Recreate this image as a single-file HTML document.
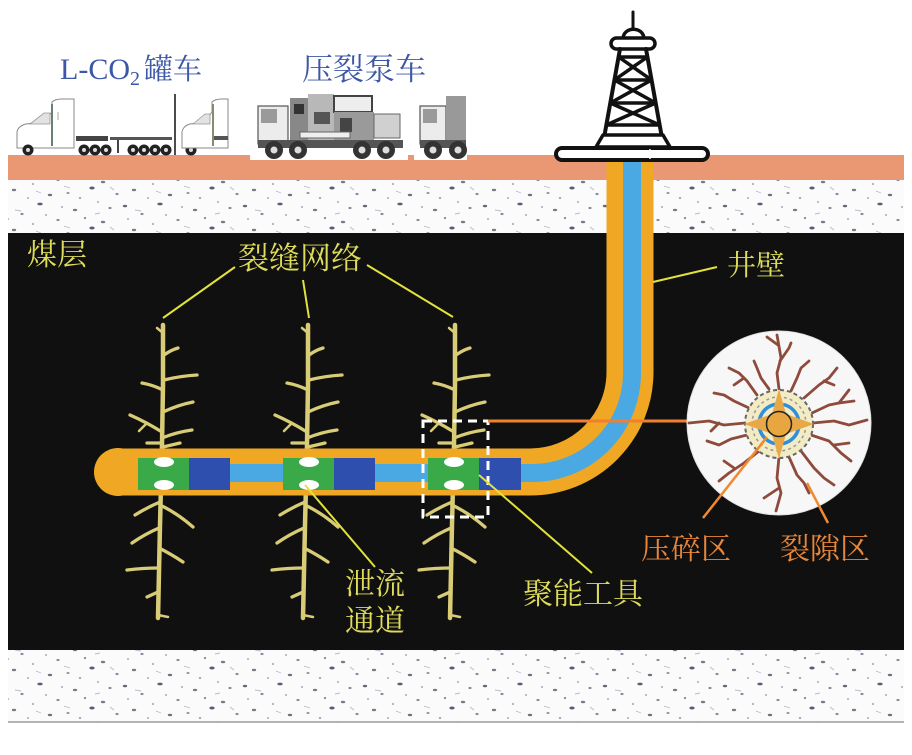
<!DOCTYPE html>
<html>
<head>
<meta charset="utf-8">
<style>
  html,body{margin:0;padding:0;background:#fff;}
  svg{display:block;}
  .cjk{font-family:"Liberation Serif","Noto Serif CJK SC","Noto Sans CJK SC",serif;}
</style>
</head>
<body>
<svg width="912" height="755" viewBox="0 0 912 755" xmlns="http://www.w3.org/2000/svg">
  <defs>
    <pattern id="speck" patternUnits="userSpaceOnUse" width="120" height="40">
      <rect width="120" height="40" fill="#fbfbfc"/>
      <g fill="#3e4358">
        <ellipse cx="5" cy="6" rx="2.2" ry="1.3" opacity="0.8"/>
        <ellipse cx="22" cy="14" rx="1.6" ry="1.1" opacity="0.6"/>
        <ellipse cx="40" cy="4" rx="2.7" ry="1.4" opacity="0.85"/>
        <ellipse cx="58" cy="20" rx="1.6" ry="1.1" opacity="0.6"/>
        <ellipse cx="75" cy="10" rx="2.2" ry="1.2" opacity="0.7"/>
        <ellipse cx="92" cy="28" rx="2.7" ry="1.5" opacity="0.85"/>
        <ellipse cx="110" cy="8" rx="1.6" ry="1.1" opacity="0.6"/>
        <ellipse cx="14" cy="30" rx="2.2" ry="1.2" opacity="0.7"/>
        <ellipse cx="33" cy="24" rx="1.2" ry="0.9" opacity="0.5"/>
        <ellipse cx="50" cy="35" rx="2.2" ry="1.2" opacity="0.75"/>
        <ellipse cx="68" cy="33" rx="1.6" ry="1" opacity="0.55"/>
        <ellipse cx="85" cy="18" rx="1.2" ry="1.1" opacity="0.6"/>
        <ellipse cx="103" cy="22" rx="2.2" ry="1.2" opacity="0.7"/>
        <ellipse cx="117" cy="34" rx="1.6" ry="1.1" opacity="0.6"/>
        <ellipse cx="28" cy="38" rx="1.2" ry="0.8" opacity="0.5"/>
        <ellipse cx="62" cy="7" rx="1.2" ry="0.8" opacity="0.5"/>
        <ellipse cx="98" cy="2" rx="1.2" ry="0.8" opacity="0.5"/>
        <ellipse cx="8" cy="19" rx="1.2" ry="0.8" opacity="0.5"/>
        <ellipse cx="80" cy="38" rx="1.4" ry="0.9" opacity="0.55"/>
        <ellipse cx="46" cy="15" rx="1.2" ry="0.7" opacity="0.5"/>
      </g>
      <g stroke="#9aa0b0" stroke-width="0.9" opacity="0.7">
        <line x1="15" y1="10" x2="21" y2="11"/>
        <line x1="64" y1="26" x2="70" y2="28"/>
        <line x1="95" y1="14" x2="100" y2="13"/>
        <line x1="36" y1="31" x2="41" y2="33"/>
        <line x1="110" y1="27" x2="114" y2="30"/>
      </g>
    </pattern>
    <g id="tree" stroke="#d9cc77" fill="none" stroke-linecap="round">
      <path d="M0,0 L0,60 L-1,120 L-3,200 L-5,293" stroke-width="4.5"/>
      <g stroke-width="3.3">
        <path d="M0,8 L-6,3" stroke-width="2.5"/>
        <path d="M1,30 Q8,25 15,23"/>
        <path d="M0,65 Q-10,60 -21,58"/>
        <path d="M1,55 Q17,51 34,50"/>
        <path d="M0,87 Q15,80 30,77"/>
        <path d="M-1,107 Q-17,97 -33,90"/>
        <path d="M-17,99 L-24,106" stroke-width="2.5"/>
        <path d="M-1,113 Q14,107 29,105"/>
        <path d="M-1,118 L-16,118"/>
        <path d="M0,122 L17,118"/>
        <path d="M-3,177 Q-15,182 -28,190"/>
        <path d="M-3,180 Q14,188 30,202"/>
        <path d="M-4,203 Q-18,209 -31,218"/>
        <path d="M-4,223 Q8,229 20,237"/>
        <path d="M-4,243 Q-20,243 -36,245"/>
        <path d="M-5,267 L-16,272"/>
        <path d="M-5,290 L5,292" stroke-width="2.5"/>
      </g>
    </g>
  </defs>

  <!-- Background layers -->
  <rect x="0" y="0" width="912" height="755" fill="#ffffff"/>
  <rect x="8" y="155" width="896" height="25" fill="#e99873"/>
  <rect x="8" y="180" width="896" height="53" fill="url(#speck)"/>
  <rect x="8" y="233" width="896" height="417" fill="#101010"/>
  <rect x="8" y="650" width="896" height="72" fill="url(#speck)"/>
  <line x1="8" y1="722" x2="904" y2="722" stroke="#888" stroke-width="1.2"/>

  <!-- Truck 1 (tanker) -->
  <g>
    <path d="M17,148 L17,132 Q18,126 26,124 L44,122 L52,112 L52,102 Q55,99 62,99 L74,99 L74,148 Z" fill="#fff" stroke="#888" stroke-width="1"/>
    <path d="M30,124 L44,113 L50,113 L50,124 Z" fill="#e2e2e2" stroke="#999" stroke-width="0.8"/>
    <line x1="52" y1="104" x2="52" y2="146" stroke="#6a8070" stroke-width="2"/>
    <line x1="58" y1="112" x2="58" y2="120" stroke="#aaa" stroke-width="1"/>
    <rect x="76" y="136" width="32" height="5" fill="#444"/>
    <rect x="110" y="137" width="62" height="3" fill="#555"/>
    <line x1="118" y1="140" x2="118" y2="153" stroke="#444" stroke-width="2"/>
    <g fill="#222">
      <circle cx="28" cy="150" r="5.5"/><circle cx="84" cy="150" r="5.5"/><circle cx="95" cy="150" r="5.5"/><circle cx="106" cy="150" r="5.5"/>
      <circle cx="133" cy="150" r="5.5"/><circle cx="144" cy="150" r="5.5"/><circle cx="155" cy="150" r="5.5"/><circle cx="166" cy="150" r="5.5"/>
      <circle cx="191" cy="150" r="5.5"/>
    </g>
    <g fill="#ddd">
      <circle cx="28" cy="150" r="2"/><circle cx="84" cy="150" r="2"/><circle cx="95" cy="150" r="2"/><circle cx="106" cy="150" r="2"/>
      <circle cx="133" cy="150" r="2"/><circle cx="144" cy="150" r="2"/><circle cx="155" cy="150" r="2"/><circle cx="166" cy="150" r="2"/>
      <circle cx="191" cy="150" r="2"/>
    </g>
    <line x1="175" y1="94" x2="175" y2="155" stroke="#111" stroke-width="1.5"/>
    <path d="M182,148 L182,132 Q183,126 190,124 L205,122 L212,112 L212,102 Q215,99 222,99 L228,99 L228,148 Z" fill="#fff" stroke="#888" stroke-width="1"/>
    <path d="M193,124 L205,114 L210,114 L210,124 Z" fill="#e2e2e2" stroke="#999" stroke-width="0.8"/>
    <line x1="213" y1="104" x2="213" y2="146" stroke="#8a8a70" stroke-width="2"/>
    <rect x="214" y="136" width="14" height="4" fill="#555"/>
  </g>

  <!-- Pump truck -->
  <g>
    <rect x="250" y="88" width="158" height="72" fill="#fff"/>
    <rect x="414" y="88" width="53" height="72" fill="#fff"/>
    <rect x="258" y="106" width="30" height="38" fill="#ececec" stroke="#555" stroke-width="1.2"/>
    <rect x="261" y="109" width="16" height="14" fill="#9a9a9a"/>
    <rect x="290" y="98" width="18" height="44" fill="#888"/>
    <rect x="308" y="94" width="26" height="46" fill="#b8b8b8"/>
    <rect x="334" y="96" width="38" height="16" fill="#eee" stroke="#444" stroke-width="2"/>
    <rect x="334" y="112" width="40" height="28" fill="#9a9a9a"/>
    <rect x="374" y="114" width="26" height="24" fill="#d0d0d0" stroke="#666" stroke-width="1"/>
    <rect x="294" y="104" width="10" height="10" fill="#333"/>
    <rect x="314" y="112" width="16" height="12" fill="#555"/>
    <rect x="340" y="118" width="12" height="14" fill="#444"/>
    <rect x="258" y="140" width="145" height="8" fill="#555"/>
    <rect x="300" y="132" width="50" height="6" fill="#eee" stroke="#666" stroke-width="1"/>
    <g fill="#333"><circle cx="274" cy="150" r="9"/><circle cx="298" cy="150" r="9"/><circle cx="362" cy="150" r="9"/><circle cx="386" cy="150" r="9"/></g>
    <g fill="#ddd"><circle cx="274" cy="150" r="3.5"/><circle cx="298" cy="150" r="3.5"/><circle cx="362" cy="150" r="3.5"/><circle cx="386" cy="150" r="3.5"/></g>
    <rect x="420" y="106" width="26" height="38" fill="#ececec" stroke="#555" stroke-width="1.2"/>
    <rect x="423" y="109" width="14" height="14" fill="#9a9a9a"/>
    <rect x="446" y="96" width="20" height="46" fill="#999"/>
    <rect x="420" y="140" width="46" height="8" fill="#555"/>
    <g fill="#333"><circle cx="433" cy="150" r="9"/><circle cx="458" cy="150" r="9"/></g>
    <g fill="#ddd"><circle cx="433" cy="150" r="3.5"/><circle cx="458" cy="150" r="3.5"/></g>
  </g>

  <!-- Top labels -->
  <text x="60" y="79" font-family="Liberation Serif, serif" font-size="30" fill="#3c57a6">L-CO<tspan font-size="20" dy="6">2</tspan><tspan class="cjk" dx="4" dy="-6" font-size="29">罐车</tspan></text>
  <text class="cjk" x="302" y="80" font-size="31" fill="#3c57a6">压裂泵车</text>

  <!-- Fracture trees -->
  <use href="#tree" x="163" y="325"/>
  <use href="#tree" x="308" y="325"/>
  <use href="#tree" x="455" y="325"/>

  <!-- Wellbore -->
  <path d="M118,472 H530 A100,100 0 0 0 630,372 V158" fill="none" stroke="#f0a824" stroke-width="47"/>
  <circle cx="118" cy="472" r="24" fill="#f0a824"/>
  <path d="M140,473 H532 A100,100 0 0 0 632,373 V158" fill="none" stroke="#4aa9e2" stroke-width="18"/>

  <!-- Tools -->
  <g>
    <rect x="138" y="458" width="51" height="32" fill="#3aaa48"/>
    <rect x="189" y="458" width="41" height="32" fill="#2e4fae"/>
    <rect x="283" y="458" width="51" height="32" fill="#3aaa48"/>
    <rect x="334" y="458" width="41" height="32" fill="#2e4fae"/>
    <rect x="428" y="458" width="51" height="32" fill="#3aaa48"/>
    <rect x="479" y="458" width="42" height="32" fill="#2e4fae"/>
    <g fill="#fff">
      <ellipse cx="164" cy="462" rx="10" ry="5"/><ellipse cx="164" cy="485" rx="10" ry="5"/>
      <ellipse cx="309" cy="462" rx="10" ry="5"/><ellipse cx="309" cy="485" rx="10" ry="5"/>
      <ellipse cx="454" cy="462" rx="10" ry="5"/><ellipse cx="454" cy="485" rx="10" ry="5"/>
    </g>
  </g>

  <!-- Dashed box and connector -->
  <rect x="423" y="421" width="65" height="96" fill="none" stroke="#fff" stroke-width="3" stroke-dasharray="9 6"/>
  <line x1="488" y1="421" x2="688" y2="421" stroke="#f08030" stroke-width="3"/>

  <!-- Derrick -->
  <g stroke="#111" fill="none" stroke-linecap="round" stroke-linejoin="round">
    <line x1="633" y1="12" x2="633" y2="28" stroke-width="3"/>
    <path d="M623,39 C623,26 644,26 644,39" fill="#fff" stroke-width="3.5"/>
    <rect x="611" y="38" width="44" height="11" rx="5.5" fill="#fff" stroke-width="3.5"/>
    <line x1="620" y1="49" x2="604" y2="138" stroke-width="4"/>
    <line x1="646" y1="49" x2="662" y2="138" stroke-width="4"/>
    <g stroke-width="3.5">
      <line x1="618.6" y1="57" x2="647.4" y2="57"/>
      <line x1="614.4" y1="80" x2="651.6" y2="80"/>
      <line x1="610.3" y1="103" x2="655.7" y2="103"/>
      <line x1="606.3" y1="125" x2="659.7" y2="125"/>
      <line x1="618.6" y1="57" x2="651.6" y2="80"/>
      <line x1="647.4" y1="57" x2="614.4" y2="80"/>
      <line x1="614.4" y1="80" x2="655.7" y2="103"/>
      <line x1="651.6" y1="80" x2="610.3" y2="103"/>
      <line x1="610.3" y1="103" x2="659.7" y2="125"/>
      <line x1="655.7" y1="103" x2="606.3" y2="125"/>
    </g>
    <path d="M603,135 L663,135 L670,147 L596,147 Z" fill="#fff" stroke-width="3.5"/>
    <rect x="556" y="148" width="152" height="12" rx="6" fill="#fff" stroke-width="4"/>
    <line x1="650" y1="150" x2="650" y2="158" stroke="#fff" stroke-width="2"/>
  </g>

  <!-- Inset circle -->
  <circle cx="779" cy="423" r="92" fill="#f7f7f7" stroke="#e0e0e0" stroke-width="1"/>
  <g transform="translate(779,423)" stroke="#8e4a3b" stroke-width="2.8" fill="none" stroke-linecap="round" stroke-linejoin="round">
    <path d="M0,-34 L-2,-50 L2,-65 L-2,-88"/>
    <path d="M1,-62 L10,-75 L12,-80"/>
    <path d="M-1,-78 L-12,-86"/>
    <path d="M12,-32 L18,-45 L22,-55 L30,-62"/>
    <path d="M25,-25 L40,-38 L50,-45 L58,-55"/>
    <path d="M45,-42 L55,-38"/>
    <path d="M33,-10 L50,-18 L60,-20 L70,-33"/>
    <path d="M60,-20 L75,-22"/>
    <path d="M34,0 L55,-2 L70,2 L88,-3"/>
    <path d="M32,12 L50,18 L62,30 L72,38"/>
    <path d="M55,22 L70,20"/>
    <path d="M22,28 L35,45 L45,55 L55,62"/>
    <path d="M0,34 L-2,55 L2,70 L-3,88"/>
    <path d="M0,65 L-15,75"/>
    <path d="M10,34 L18,52 L25,60 L30,70"/>
    <path d="M-20,28 L-35,40 L-50,50 L-60,58"/>
    <path d="M-45,45 L-55,38"/>
    <path d="M-32,12 L-48,16 L-60,22 L-72,18"/>
    <path d="M-34,0 L-55,2 L-70,-2 L-90,0"/>
    <path d="M-60,0 L-68,8"/>
    <path d="M-30,-15 L-45,-22 L-55,-28 L-65,-30"/>
    <path d="M-22,-28 L-32,-42 L-40,-50 L-50,-55"/>
    <path d="M-35,-45 L-45,-38"/>
    <path d="M-10,-34 L-18,-45 L-22,-55 L-25,-62"/>
  </g>
  <g transform="translate(779,424)">
    <circle r="34" fill="#f2ebc3"/>
    <circle r="34" fill="none" stroke="#666" stroke-width="2" stroke-dasharray="4 3"/>
    <circle r="27" fill="none" stroke="#999" stroke-width="1.5" stroke-dasharray="3 3"/>
    <circle r="20" fill="none" stroke="#2f8fd8" stroke-width="3.5" stroke-dasharray="23.4 8" stroke-dashoffset="-4"/>
    <path d="M0,-35 L7,-10 L35,0 L7,10 L0,35 L-7,10 L-35,0 L-7,-10 Z" fill="#e8a848"/>
    <circle r="12.5" fill="#e8a640" stroke="#222" stroke-width="1.5"/>
  </g>

  <!-- Leader lines -->
  <g stroke="#e2e23c" stroke-width="2" fill="none">
    <line x1="235" y1="267" x2="163" y2="318"/>
    <line x1="303" y1="280" x2="309" y2="318"/>
    <line x1="367" y1="265" x2="453" y2="317"/>
    <line x1="653" y1="282" x2="717" y2="267"/>
    <line x1="305" y1="485" x2="375" y2="567"/>
    <line x1="479" y1="475" x2="592" y2="573"/>
  </g>
  <g stroke="#f08a30" stroke-width="2.5" fill="none">
    <line x1="703" y1="518" x2="767" y2="437"/>
    <line x1="807" y1="483" x2="828" y2="523"/>
  </g>

  <!-- Labels -->
  <g class="cjk" fill="#dedc5a">
    <text x="27" y="265" font-size="30">煤层</text>
    <text x="238" y="269" font-size="31">裂缝网络</text>
    <text x="727" y="275" font-size="29">井壁</text>
    <text x="345" y="594" font-size="30">泄流</text>
    <text x="345" y="631" font-size="30">通道</text>
    <text x="523" y="604" font-size="30">聚能工具</text>
  </g>
  <g class="cjk" fill="#e8863a">
    <text x="641" y="559" font-size="30">压碎区</text>
    <text x="780" y="559" font-size="30">裂隙区</text>
  </g>
</svg>
</body>
</html>
